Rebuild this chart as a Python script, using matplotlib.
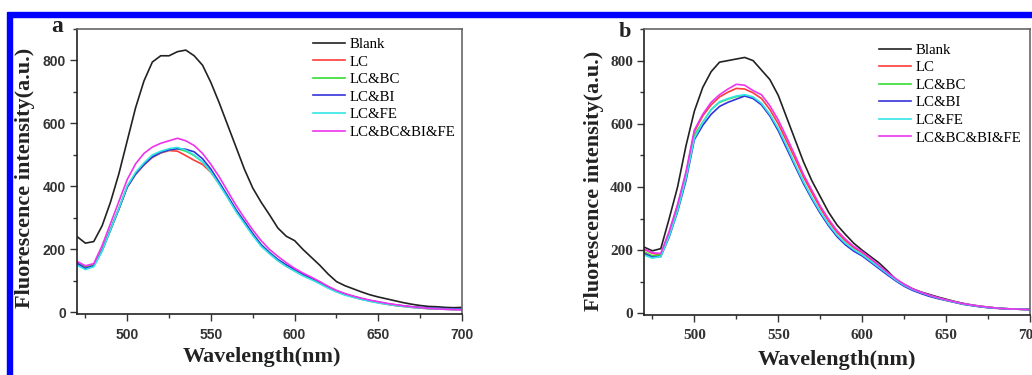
import matplotlib
matplotlib.use('Agg')
import matplotlib.pyplot as plt
from matplotlib.patches import Rectangle
from matplotlib.ticker import MultipleLocator

# wavelength grid (nm), 470..700 step 5
wavelength = list(range(470, 701, 5))

labels = ["Blank", "LC", "LC&BC", "LC&BI", "LC&FE", "LC&BC&BI&FE"]
colors = ["#222222", "#ff3b3b", "#33dd33", "#3333dd", "#33e6e6", "#ee33ee"]

# panel a
blank_a = [241, 220, 225, 275, 350, 440, 545, 650, 735, 795, 815, 815, 828, 833, 815, 785,
           730, 665, 595, 525, 455, 395, 350, 310, 268, 242, 228, 200, 175, 150, 122, 98,
           85, 75, 65, 56, 49, 43, 37, 31, 26, 22, 19, 18, 16, 15, 16]
lc_a = [160, 144, 150, 198, 262, 328, 398, 438, 468, 492, 506, 514, 512, 498, 483, 470,
        445, 408, 366, 323, 286, 248, 213, 188, 165, 147, 132, 118, 106, 93, 79, 67,
        57, 49, 42, 36, 31, 26, 22, 19, 16, 14, 12, 11, 10, 9, 9]
lcbc_a = [158, 142, 150, 200, 265, 330, 400, 440, 470, 495, 508, 516, 520, 512, 498, 478,
          448, 410, 368, 325, 288, 250, 215, 190, 168, 150, 135, 120, 108, 95, 80, 68,
          58, 50, 43, 37, 32, 27, 23, 20, 17, 15, 13, 12, 11, 10, 10]
lcbi_a = [156, 140, 148, 196, 262, 328, 398, 440, 470, 494, 508, 516, 520, 518, 510, 488,
          455, 413, 370, 326, 288, 250, 215, 190, 168, 151, 136, 121, 109, 96, 81, 69,
          59, 51, 44, 38, 33, 28, 24, 21, 18, 16, 14, 13, 12, 11, 11]
lcfe_a = [150, 136, 145, 195, 262, 330, 402, 445, 475, 500, 512, 520, 524, 515, 500, 478,
          446, 406, 364, 320, 282, 244, 210, 186, 164, 146, 131, 116, 104, 91, 77, 65,
          55, 48, 41, 35, 30, 26, 22, 19, 16, 14, 12, 11, 10, 9, 9]
all_a = [162, 148, 155, 212, 282, 352, 422, 472, 505, 525, 537, 545, 553, 545, 530, 505,
         470, 430, 385, 340, 300, 262, 228, 200, 178, 158, 140, 125, 112, 98, 83, 70,
         60, 52, 45, 39, 34, 29, 25, 21, 18, 15, 13, 11, 10, 9, 8]

# panel b
blank_b = [210, 198, 205, 300, 400, 530, 640, 715, 765, 795, 800, 805, 810, 800, 770, 740,
           690, 620, 550, 480, 420, 370, 320, 280, 250, 222, 200, 180, 160, 135, 108, 92,
           78, 68, 60, 52, 45, 38, 32, 27, 23, 20, 17, 15, 14, 13, 13]
lc_b = [203, 190, 185, 255, 340, 440, 575, 625, 660, 685, 700, 712, 710, 698, 680, 645,
        600, 545, 490, 432, 382, 334, 292, 257, 230, 208, 192, 172, 150, 128, 108, 90,
        76, 66, 57, 49, 42, 36, 30, 26, 22, 19, 17, 15, 14, 13, 12]
lcbc_b = [195, 182, 185, 250, 330, 430, 565, 605, 645, 668, 678, 686, 690, 682, 662, 628,
          582, 527, 470, 415, 365, 320, 280, 246, 220, 200, 185, 165, 145, 125, 105, 88,
          75, 65, 56, 48, 42, 36, 30, 26, 22, 19, 17, 15, 14, 13, 12]
lcbi_b = [190, 178, 180, 242, 322, 420, 550, 595, 630, 655, 668, 678, 688, 680, 660, 625,
          578, 522, 466, 411, 362, 317, 277, 243, 217, 197, 182, 162, 142, 122, 103, 86,
          73, 63, 54, 47, 41, 35, 29, 25, 21, 18, 16, 15, 14, 13, 12]
lcfe_b = [185, 175, 180, 245, 325, 428, 555, 605, 645, 670, 680, 688, 692, 685, 665, 630,
          585, 530, 472, 417, 367, 322, 282, 248, 222, 202, 186, 166, 146, 126, 106, 89,
          76, 66, 57, 49, 42, 36, 30, 26, 22, 19, 17, 15, 14, 13, 12]
all_b = [205, 192, 190, 260, 345, 448, 580, 630, 668, 692, 710, 725, 722, 705, 692, 657,
         612, 557, 500, 440, 390, 340, 298, 262, 235, 212, 195, 175, 152, 130, 110, 92,
         78, 67, 58, 50, 43, 37, 31, 27, 23, 20, 17, 15, 14, 13, 12]

series_a = [blank_a, lc_a, lcbc_a, lcbi_a, lcfe_a, all_a]
series_b = [blank_b, lc_b, lcbc_b, lcbi_b, lcfe_b, all_b]

W, H = 1032, 375
fig = plt.figure(figsize=(W / 100., H / 100.), dpi=100)


def px(x, y):
    return x / float(W), 1 - y / float(H)


def make_panel(rect, data, tick_font, leg_anchor):
    ax = fig.add_axes(rect)
    for d, lab, c in zip(data, labels, colors):
        ax.plot(wavelength, d, color=c, lw=1.2, label=lab)
    ax.set_xlim(470, 700)
    ax.set_ylim(-5, 900)
    ax.xaxis.set_major_locator(MultipleLocator(50))
    ax.xaxis.set_minor_locator(MultipleLocator(25))
    ax.yaxis.set_major_locator(MultipleLocator(200))
    ax.yaxis.set_minor_locator(MultipleLocator(100))
    ax.tick_params(which='both', direction='out', top=False, right=False,
                   color='#333333', width=1.0)
    ax.tick_params(which='major', length=5, pad=3)
    ax.tick_params(which='minor', length=3)
    ax.tick_params(axis='x', which='major', pad=5)
    for lab in ax.get_xticklabels() + ax.get_yticklabels():
        lab.set_fontproperties(tick_font)
        lab.set_color('#333333')
    for s in ['left', 'bottom']:
        ax.spines[s].set_color('#222222')
        ax.spines[s].set_linewidth(1.2)
    for s in ['top', 'right']:
        ax.spines[s].set_color('#666666')
        ax.spines[s].set_linewidth(1.2)
    ax.legend(loc='upper left', bbox_to_anchor=leg_anchor, frameon=False,
              prop={'family': 'Liberation Serif', 'size': 10.7},
              handlelength=2.15, handletextpad=0.33, labelspacing=0.28,
              borderpad=0, borderaxespad=0)
    return ax


sans_bold = matplotlib.font_manager.FontProperties(family='Liberation Sans', weight='bold', size=10)
serif_bold = matplotlib.font_manager.FontProperties(family='Liberation Serif', weight='bold', size=11)

ax_a = make_panel([77 / W, 1 - 314 / H, 385 / W, 285 / H], series_a, sans_bold, (0.613, 0.97))
ax_b = make_panel([644 / W, 1 - 315 / H, 386 / W, 286 / H], series_b, serif_bold, (0.609, 0.95))

lab_style = dict(family='Liberation Serif', weight='bold', color='#222222')
fig.text(*px(25, 178), "Fluorescence intensity(a.u.)", rotation=90, ha='center', va='center',
         fontsize=16, **lab_style)
fig.text(*px(594, 181), "Fluorescence intensity(a.u.)", rotation=90, ha='center', va='center',
         fontsize=16, **lab_style)
fig.text(*px(262, 357), "Wavelength(nm)", ha='center', va='center', fontsize=16, **lab_style)
fig.text(*px(837, 360), "Wavelength(nm)", ha='center', va='center', fontsize=16, **lab_style)
fig.text(*px(57, 26), "a", ha='center', va='center', fontsize=17, **lab_style)
fig.text(*px(625, 32), "b", ha='center', va='center', fontsize=16, **lab_style)

# blue frame around the figure
fig.patches.append(Rectangle(px(7, 17), (W - 7) / W, 5 / H, transform=fig.transFigure,
                             color='#0000ff', zorder=5))
fig.patches.append(Rectangle(px(7, 375), 5 / W, 358 / H, transform=fig.transFigure,
                             color='#0000ff', zorder=5))

fig.savefig("out.png", dpi=100)
